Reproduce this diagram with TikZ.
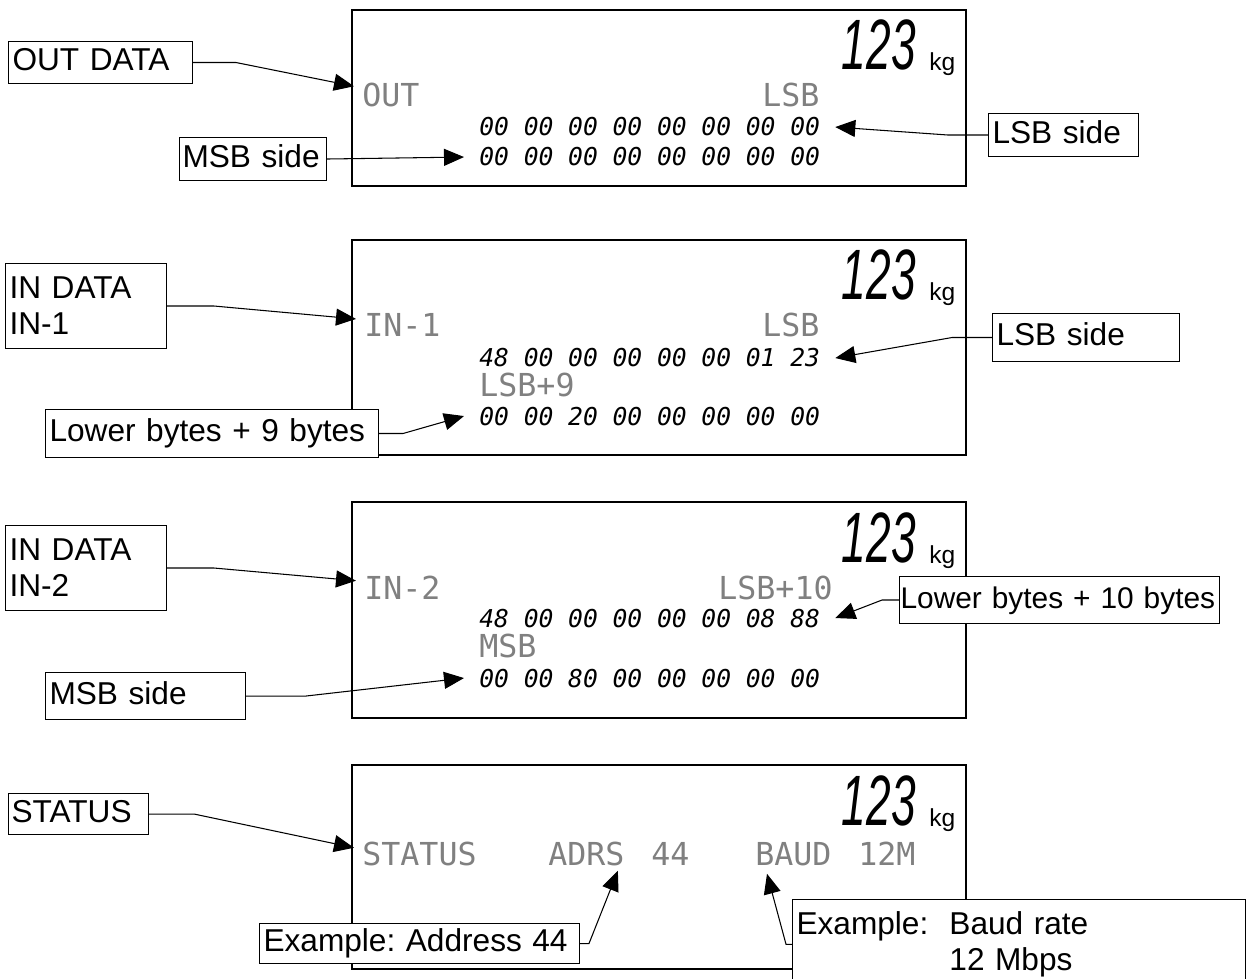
\documentclass[tikz,border=0pt]{standalone}
\usepackage{fontspec}
\usepackage{graphicx}
\usetikzlibrary{arrows.meta,calc}
\setmainfont{Liberation Sans}
\newfontfamily\lblfont{Liberation Sans}
\newfontfamily\lcdfont{DejaVu Sans Mono}
\frenchspacing

\begin{document}
\begin{tikzpicture}[x=0.02cm,y=-0.02cm,
	display/.style={line width=1.1pt},
	lbl/.style={draw,line width=0.6pt,fill=white,font=\lblfont\fontsize{18}{20.5}\selectfont,inner xsep=0.08cm,inner ysep=0pt,align=left,text height=0.452cm,text depth=0.12cm,anchor=north west},
	lbltwo/.style={draw,line width=0.6pt,fill=white,font=\lblfont\fontsize{18}{20.5}\selectfont,inner xsep=0.08cm,inner ysep=0.24cm,align=left,anchor=north west},
	lcd/.style={font=\lcdfont\fontsize{18}{18}\selectfont,text=black!50,inner xsep=0.16cm,inner ysep=0pt,anchor=base west},
	seg/.style={font=\lcdfont\itshape\fontsize{14}{14}\selectfont,inner xsep=0.3cm,inner ysep=0pt,anchor=base west},
	big/.style={font=\lblfont\itshape\fontsize{40.6}{41}\selectfont,inner sep=0pt,anchor=base east},
	unit/.style={font=\lblfont\fontsize{14}{14}\selectfont,inner sep=0pt,anchor=base west},
	arr/.style={line width=0.6pt,-{Triangle[length=0.4cm,width=0.34cm]}}]
	\fill[white] (0,0) rectangle (1246,979);
	\clip (0,0) rectangle (1246,979);
	%\draw[help lines,dashed] (0,0) grid[step=1cm] (1246,979);

	% the four displays
	\foreach \t/\b in {10/186,240/455,502/718,765/969}{
		\draw[display] (352,\t) rectangle (966,\b);
		\node[big] (big\t) at (916,\t+60) {\scalebox{0.62}[1]{123}};
		\node[unit] (kg\t) at (929,\t+61) {kg};
	}

	\node[lcd] (out) at (354,107) {OUT};
	\node[lcd] (lsbtop1) at (754,107) {LSB};
	\node[seg] (rowa1) at (464,136) {00 00 00 00 00 00 00 00};
	\node[seg] (rowb1) at (464,166) {00 00 00 00 00 00 00 00};

	\node[lcd] (in1) at (356,337) {IN-1};
	\node[lcd] (lsbtop2) at (754,337) {LSB};
	\node[seg] (rowa2) at (464,367) {48 00 00 00 00 00 01 23};
	\node[lcd] (lsbnine) at (471,397) {LSB+9};
	\node[seg] (rowb2) at (464,425) {00 00 20 00 00 00 00 00};

	\node[lcd] (in2) at (356,599) {IN-2};
	\node[lcd] (lsbten) at (710,599) {LSB+10};
	\node[seg] (rowa3) at (464,627) {48 00 00 00 00 00 08 88};
	\node[lcd] (msbtop3) at (471,657) {MSB};
	\node[seg] (rowb3) at (464,687) {00 00 80 00 00 00 00 00};

	\node[lcd] (status) at (354,865) {STATUS};
	\node[lcd] (adrs) at (540,865) {ADRS};
	\node[lcd] (adrsval) at (643,865) {44};
	\node[lcd] (baud) at (747,865) {BAUD};
	\node[lcd] (baudval) at (850,865) {12M};

	% callouts
	\node[lbl,text width=3.52cm,minimum height=0.84cm] (outlbl) at (8,41) {OUT DATA};
	\node[lbl,text width=2.82cm,inner xsep=0.06cm,minimum height=0.86cm] (msb1) at (179,137) {MSB side};
	\node[lbl,text width=2.84cm,minimum height=0.86cm] (lsb1) at (988,113) {LSB side};
	\node[lbltwo,text width=3.06cm,minimum height=1.7cm] (in1lbl) at (5,263) {IN DATA\\IN-1};
	\node[lbl,text width=3.58cm,minimum height=0.96cm] (lsb2) at (992,313) {LSB side};
	\node[lbl,text width=6.5cm,minimum height=0.96cm] (low9) at (45,409) {Lower bytes + 9 bytes};
	\node[lbltwo,text width=3.06cm,minimum height=1.7cm] (in2lbl) at (5,525) {IN DATA\\IN-2};
	\node[lbl,font=\lblfont\fontsize{17}{20.5}\selectfont,text width=6.36cm,inner xsep=0.02cm,minimum height=0.94cm] (low10) at (899,576) {Lower bytes + 10 bytes};
	\node[lbl,text width=3.84cm,minimum height=0.94cm] (msb3) at (45,672) {MSB side};
	\node[lbl,text width=2.68cm,inner xsep=0.06cm,minimum height=0.82cm] (statlbl) at (8,793) {STATUS};
	\node[lbl,text width=6.24cm,minimum height=0.8cm] (ex44) at (259,923) {Example: Address 44};
	\node[lbltwo,text width=8.9cm] (exbaud) at (792,899) {Example:\ \ Baud rate\\\phantom{Example:\ \ }12 Mbps};

	\draw[arr] (outlbl.east) -- ++(43,0) -- (out.166);
	\draw[arr] (msb1.east) -- (rowb1.west);
	\draw[arr] (lsb1.west) -- ++(-40,0) -- (rowa1.east);
	\draw[arr] (in1lbl.east) -- ++(47,0) -- (in1.172);
	\draw[arr] (lsb2.west) -- ++(-40,0) -- (rowa2.east);
	\draw[arr] (low9.east) -- ++(24,0) -- (rowb2.west);
	\draw[arr] (in2lbl.east) -- ++(47,0) -- (in2.172);
	\draw[arr] (low10.west) -- ++(-17,0) -- (rowa3.east);
	\draw[arr] (msb3.east) -- ++(60,0) -- (rowb3.west);
	\draw[arr] (statlbl.east) -- ++(45,0) -- (status.175);
	\draw[arr] (ex44.east) -- ++(9,0) -- ($(adrs.south east)+(-15,5)$);
	\draw[arr] (exbaud.west) -- ++(-6,0) -- ($(baud.south west)+(20,8)$);
\end{tikzpicture}
\end{document}
